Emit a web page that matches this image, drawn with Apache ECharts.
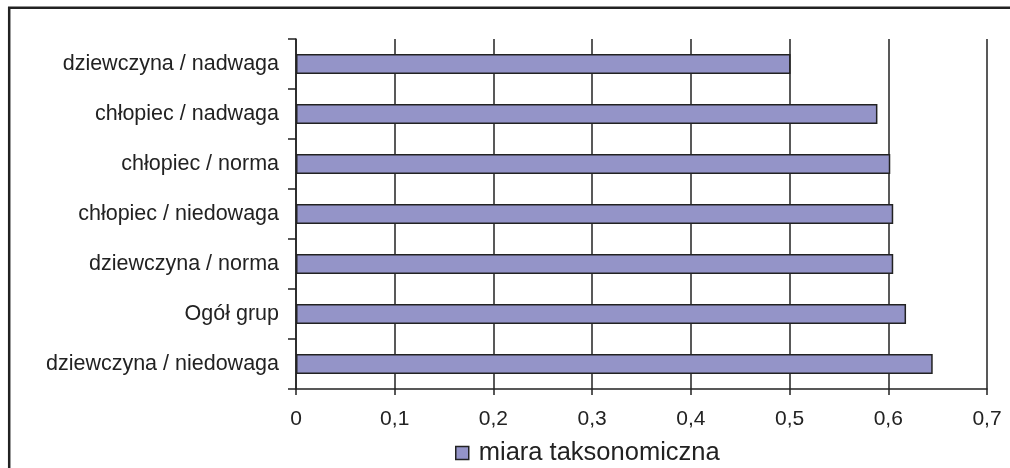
<!DOCTYPE html>
<html>
<head>
<meta charset="utf-8">
<script src="https://cdn.jsdelivr.net/npm/echarts@6/dist/echarts.min.js"></script>
<style>
  html, body { margin: 0; padding: 0; background: #fff; }
  #chart { width: 1010px; height: 468px; }
</style>
</head>
<body>
<div id="chart"></div>
<script>
// Groups listed from top to bottom
const categories = [
  'dziewczyna / nadwaga',
  'chłopiec / nadwaga',
  'chłopiec / norma',
  'chłopiec / niedowaga',
  'dziewczyna / norma',
  'Ogół grup',
  'dziewczyna / niedowaga'
];
const seriesName = 'miara taksonomiczna';
const values = [0.501, 0.589, 0.602, 0.605, 0.605, 0.618, 0.645];
const xTicks = { min: 0, max: 0.7, interval: 0.1 };

const ink = '#222222';
const font = 'Liberation Sans, Arial, sans-serif';

const chart = echarts.init(document.getElementById('chart'));
chart.setOption({
  animation: false,
  backgroundColor: '#ffffff',
  graphic: [{
    type: 'rect',
    shape: { x: 9.2, y: 7.8, width: 1100, height: 600 },
    style: { fill: 'none', stroke: ink, lineWidth: 2.5 },
    silent: true
  }],
  grid: { left: 296, right: 23, top: 39, bottom: 79, containLabel: false },
  legend: {
    data: [seriesName],
    left: 455,
    top: 440,
    padding: 0,
    itemWidth: 13,
    itemHeight: 13,
    icon: 'rect',
    itemStyle: { color: '#9494C8', borderColor: ink, borderWidth: 1.5 },
    textStyle: { fontFamily: font, fontSize: 25.5, color: ink, padding: [0, 0, 0, 5] }
  },
  xAxis: {
    type: 'value',
    min: xTicks.min,
    max: xTicks.max,
    interval: xTicks.interval,
    axisLine: { show: true, lineStyle: { color: ink, width: 1.5 } },
    axisTick: { show: true, length: 6, lineStyle: { color: ink, width: 1.5 } },
    splitLine: { show: true, lineStyle: { color: ink, width: 1.5 } },
    axisLabel: {
      margin: 20,
      fontFamily: font,
      fontSize: 21,
      color: ink,
      formatter: v => (Math.round(v * 10) / 10).toString().replace('.', ',')
    }
  },
  yAxis: {
    type: 'category',
    inverse: true,
    data: categories,
    axisLine: { show: true, lineStyle: { color: ink, width: 1.5 } },
    axisTick: { show: true, length: 8, alignWithLabel: false, lineStyle: { color: ink, width: 1.5 } },
    axisLabel: { margin: 17, fontFamily: font, fontSize: 21.5, color: ink }
  },
  series: [{
    name: seriesName,
    type: 'bar',
    data: values,
    barWidth: 20,
    itemStyle: { color: '#9494C8', borderColor: ink, borderWidth: 1.5 }
  }]
});
</script>
</body>
</html>
